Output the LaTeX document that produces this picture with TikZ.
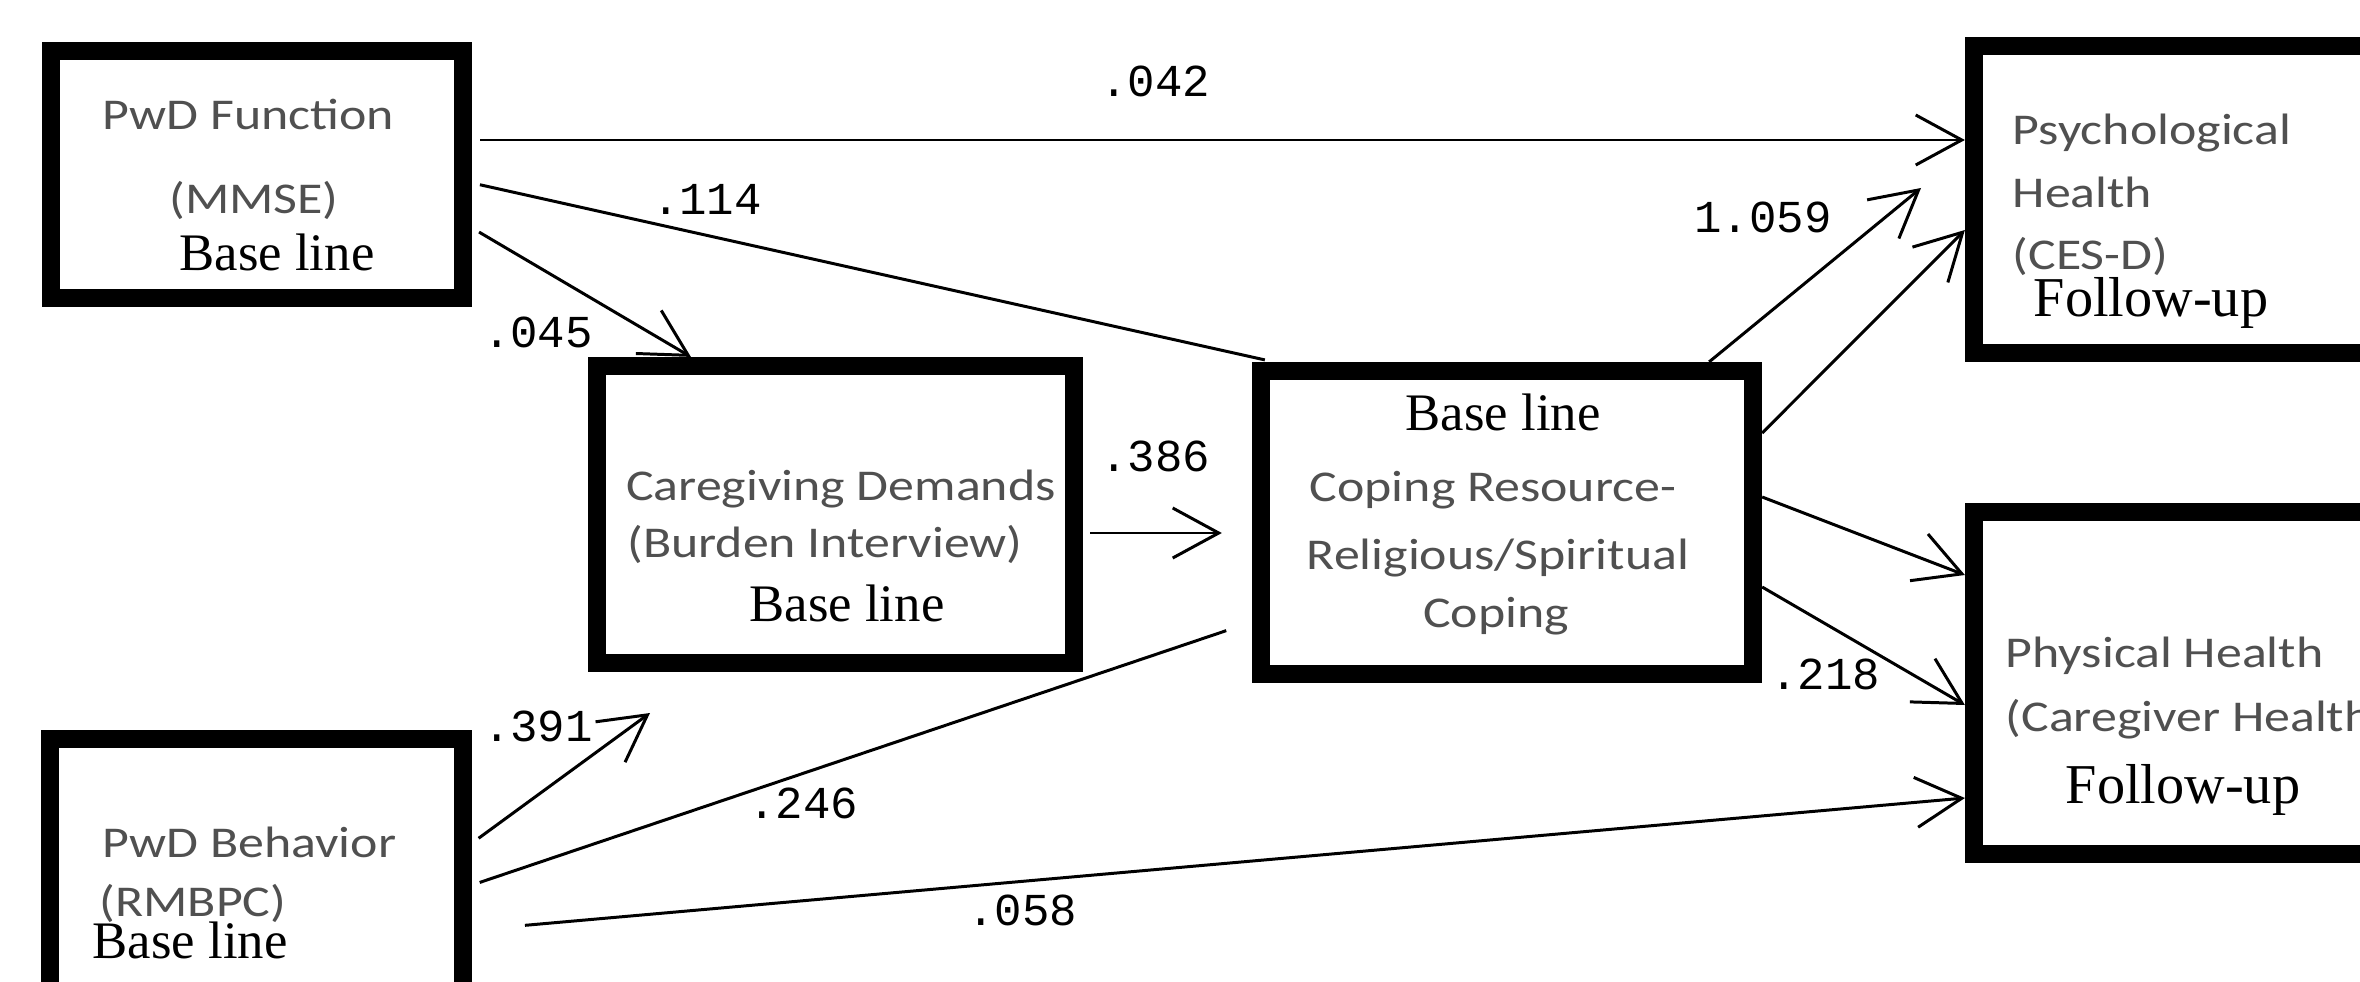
\documentclass[tikz,border=0pt]{standalone}
\usepackage{fontspec}
\setmainfont{Liberation Serif}
\newfontfamily\boxfnt[FakeStretch=1.18]{Carlito}
\newfontfamily\serfnt{Liberation Serif}
\newfontfamily\numfnt{Liberation Mono}
\usetikzlibrary{arrows.meta}
\definecolor{txtgray}{RGB}{80,80,80}
\begin{document}
\begin{tikzpicture}[x=0.01cm,y=-0.01cm,
  box/.style={draw, line width=0.18cm, inner sep=0pt},
  sans/.style={font=\boxfnt\fontsize{12.5}{15}\selectfont, text=txtgray, inner sep=0pt, text height=8pt, text depth=0pt},
  ser/.style={font=\serfnt\fontsize{15}{18}\selectfont, inner sep=0pt, text height=10pt, text depth=0pt},
  fol/.style={font=\serfnt\fontsize{16}{19}\selectfont, inner sep=0pt, text height=10.6pt, text depth=0pt},
  num/.style={font=\numfnt\fontsize{13}{15}\selectfont, inner sep=0pt, text height=7.9pt, text depth=0pt},
  conn/.style={line width=0.85pt},
  arr/.style={conn, -{Straight Barb[length=0.46cm,width=0.5cm]}}
]
\useasboundingbox (0,0) rectangle (2360,982);
\clip (0,0) rectangle (2360,982);
\fill[white] (0,0) rectangle (2360,982);

% boxes
\node[box, minimum width=4.12cm, minimum height=2.47cm] (b1) at (257,174.5) {};
\node[box, minimum width=4.77cm, minimum height=2.97cm] (b2) at (835.5,514.5) {};
\node[box, minimum width=4.92cm, minimum height=3.03cm] (b3) at (1507,522.5) {};
\node[box, minimum width=4.26cm, minimum height=3.07cm] (b4) at (2187,199.5) {};
\node[box, minimum width=4.26cm, minimum height=3.42cm] (b5) at (2187,683) {};
\node[box, minimum width=4.13cm, minimum height=2.61cm] (b6) at (256.5,869.5) {};

% box texts
\node[sans, anchor=west] (t1a) at (102,115) {PwD Function};
\node[sans] (t1b) at (254,199) {(MMSE)};
\node[ser] (t1c) at (277,253) {Base line};

\node[sans] (t2a) at (841,486) {Caregiving Demands};
\node[sans] (t2b) at (825,543) {(Burden Interview)};
\node[ser] (t2c) at (847,604) {Base line};

\node[ser] (t3a) at (1503,413) {Base line};
\node[sans] (t3b) at (1493,487) {Coping Resource-};
\node[sans] (t3c) at (1498,555) {Religious/Spiritual};
\node[sans] (t3d) at (1496,613) {Coping};

\node[sans, anchor=west] (t4a) at (2012,130) {Psychological};
\node[sans, anchor=west] (t4b) at (2012,193) {Health};
\node[sans, anchor=west] (t4c) at (2012,255) {(CES-D)};
\node[fol] (t4d) at (2151,298) {Follow-up};

\node[sans, anchor=west] (t5a) at (2005,653) {Physical Health};
\node[sans, anchor=west] (t5b) at (2005,717) {(Caregiver Health};
\node[fol] (t5c) at (2183,785) {Follow-up};

\node[sans, anchor=west] (t6a) at (102,843) {PwD Behavior};
\node[sans, anchor=west] (t6b) at (99,902) {(RMBPC)};
\node[ser, anchor=west] (t6c) at (92,941) {Base line};

% free ends
\coordinate (c391) at (650,713);
\coordinate (c1059) at (1921,188);

% connectors
\draw[arr, shorten <=0.08cm] (b1.east |- 0,140) -- (b4.west |- 0,140);
\draw[conn, shorten <=0.08cm] (b1.east |- 0,183) -- ([xshift=0.13cm, yshift=0.02cm]b3.north west);
\draw[arr, shorten <=0.08cm] (b1.east |- 0,228) -- ([xshift=1.03cm]b2.north west);
\draw[arr, shorten <=0.07cm, shorten >=0.3cm] (b2.east |- 0,533) -- (b3.west |- 0,533);
\draw[arr, shorten <=0.08cm] (b6.east |- 0,843) -- (c391);
\draw[conn, shorten <=0.08cm, shorten >=0.27cm] (b6.east |- 0,885) -- (b3.west |- 0,622);
\draw[arr, shorten <=0.53cm] (b6.east |- 0,930) -- (b5.west |- 0,798);
\draw[arr] ([xshift=-0.53cm]b3.north east) -- (c1059);
\draw[arr] (b3.east |- 0,433) -- (b4.west |- 0,230);
\draw[arr] (b3.east |- 0,497) -- (b5.west |- 0,575);
\draw[arr] (b3.east |- 0,587) -- (b5.west |- 0,705);

% labels
\node[num] (l042) at (1155,83) {.042};
\node[num] (l114) at (707,201) {.114};
\node[num] (l045) at (538,334) {.045};
\node[num] (l386) at (1155,458) {.386};
\node[num] (l391) at (538,728) {.391};
\node[num] (l246) at (803,805) {.246};
\node[num] (l058) at (1022,912) {.058};
\node[num] (l1059) at (1763,219) {1.059};
\node[num] (l218) at (1825,676) {.218};
\end{tikzpicture}
\end{document}
